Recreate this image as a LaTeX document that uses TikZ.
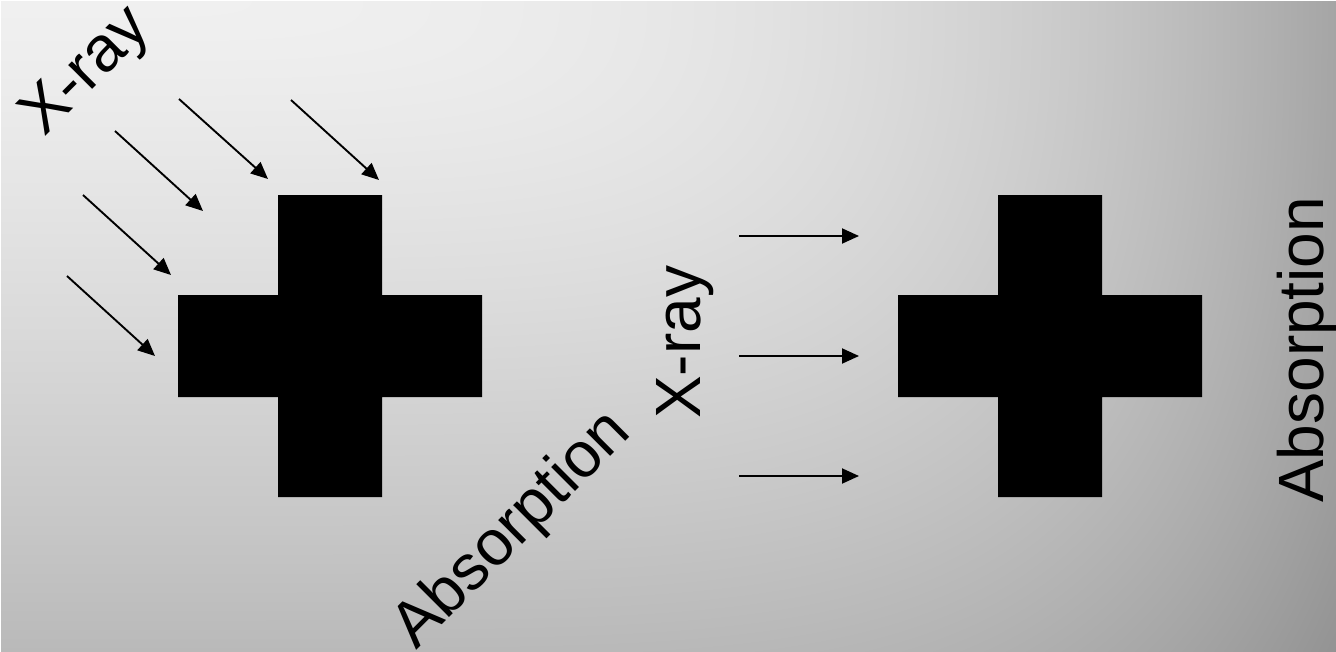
\documentclass[tikz,border=0pt]{standalone}
\usepackage{fontspec}
\setmainfont{Liberation Sans}
\usetikzlibrary{arrows.meta}
\pgfdeclarefunctionalshading{bgshade}{\pgfpoint{0bp}{0bp}}{\pgfpoint{1336bp}{652bp}}{}{
652 exch sub 652 div 1.3 exp 55 mul dup mul
exch 1336 div dup dup mul mul 75 mul dup mul
add sqrt 240 exch sub 255 div dup dup
}
\tikzset{
  ray/.style={line width=1.9bp, draw=black, -{Triangle[length=17bp,width=15bp]}},
  blk/.style={fill=black, draw=none},
  lbl/.style={inner sep=0pt, text=black, font=\fontsize{64bp}{70bp}\selectfont, anchor=base west}
}
\begin{document}
\begin{tikzpicture}[x=1bp, y=-1bp]
\useasboundingbox (0,0) rectangle (1336,652);
\node[inner sep=0pt, anchor=north west] (bg) at (0,0) {\pgfuseshading{bgshade}};
% crosses
\fill[blk] (278,195) -- (382,195) -- (382,295) -- (482,295) -- (482,397) -- (382,397) -- (382,497) -- (278,497) -- (278,397) -- (178,397) -- (178,295) -- (278,295) -- cycle;
\fill[blk] (998,195) -- (1102,195) -- (1102,295) -- (1202,295) -- (1202,397) -- (1102,397) -- (1102,497) -- (998,497) -- (998,397) -- (898,397) -- (898,295) -- (998,295) -- cycle;
% diagonal rays
\coordinate (d1s) at (67,276);  \coordinate (d1e) at (155,356);
\coordinate (d2s) at (83,195);  \coordinate (d2e) at (171,275);
\coordinate (d3s) at (115,131); \coordinate (d3e) at (203,211);
\coordinate (d4s) at (179,99);  \coordinate (d4e) at (268,179);
\coordinate (d5s) at (291,100); \coordinate (d5e) at (379,180);
\foreach \i in {1,...,5} \draw[ray] (d\i s) -- (d\i e);
% horizontal rays
\coordinate (h1s) at (739,236); \coordinate (h1e) at (859,236);
\coordinate (h2s) at (739,356); \coordinate (h2e) at (859,356);
\coordinate (h3s) at (739,476); \coordinate (h3e) at (859,476);
\foreach \i in {1,2,3} \draw[ray] (h\i s) -- (h\i e);
% labels
\node[lbl, rotate=45] (xray1) at (44,138) {X-ray};
\node[lbl, rotate=90] (xray2) at (700,419) {X-ray};
\node[lbl, rotate=45] (abs1) at (416,651) {Absorption};
\node[lbl, rotate=90] (abs2) at (1323,503) {Absorption};
\end{tikzpicture}
\end{document}
